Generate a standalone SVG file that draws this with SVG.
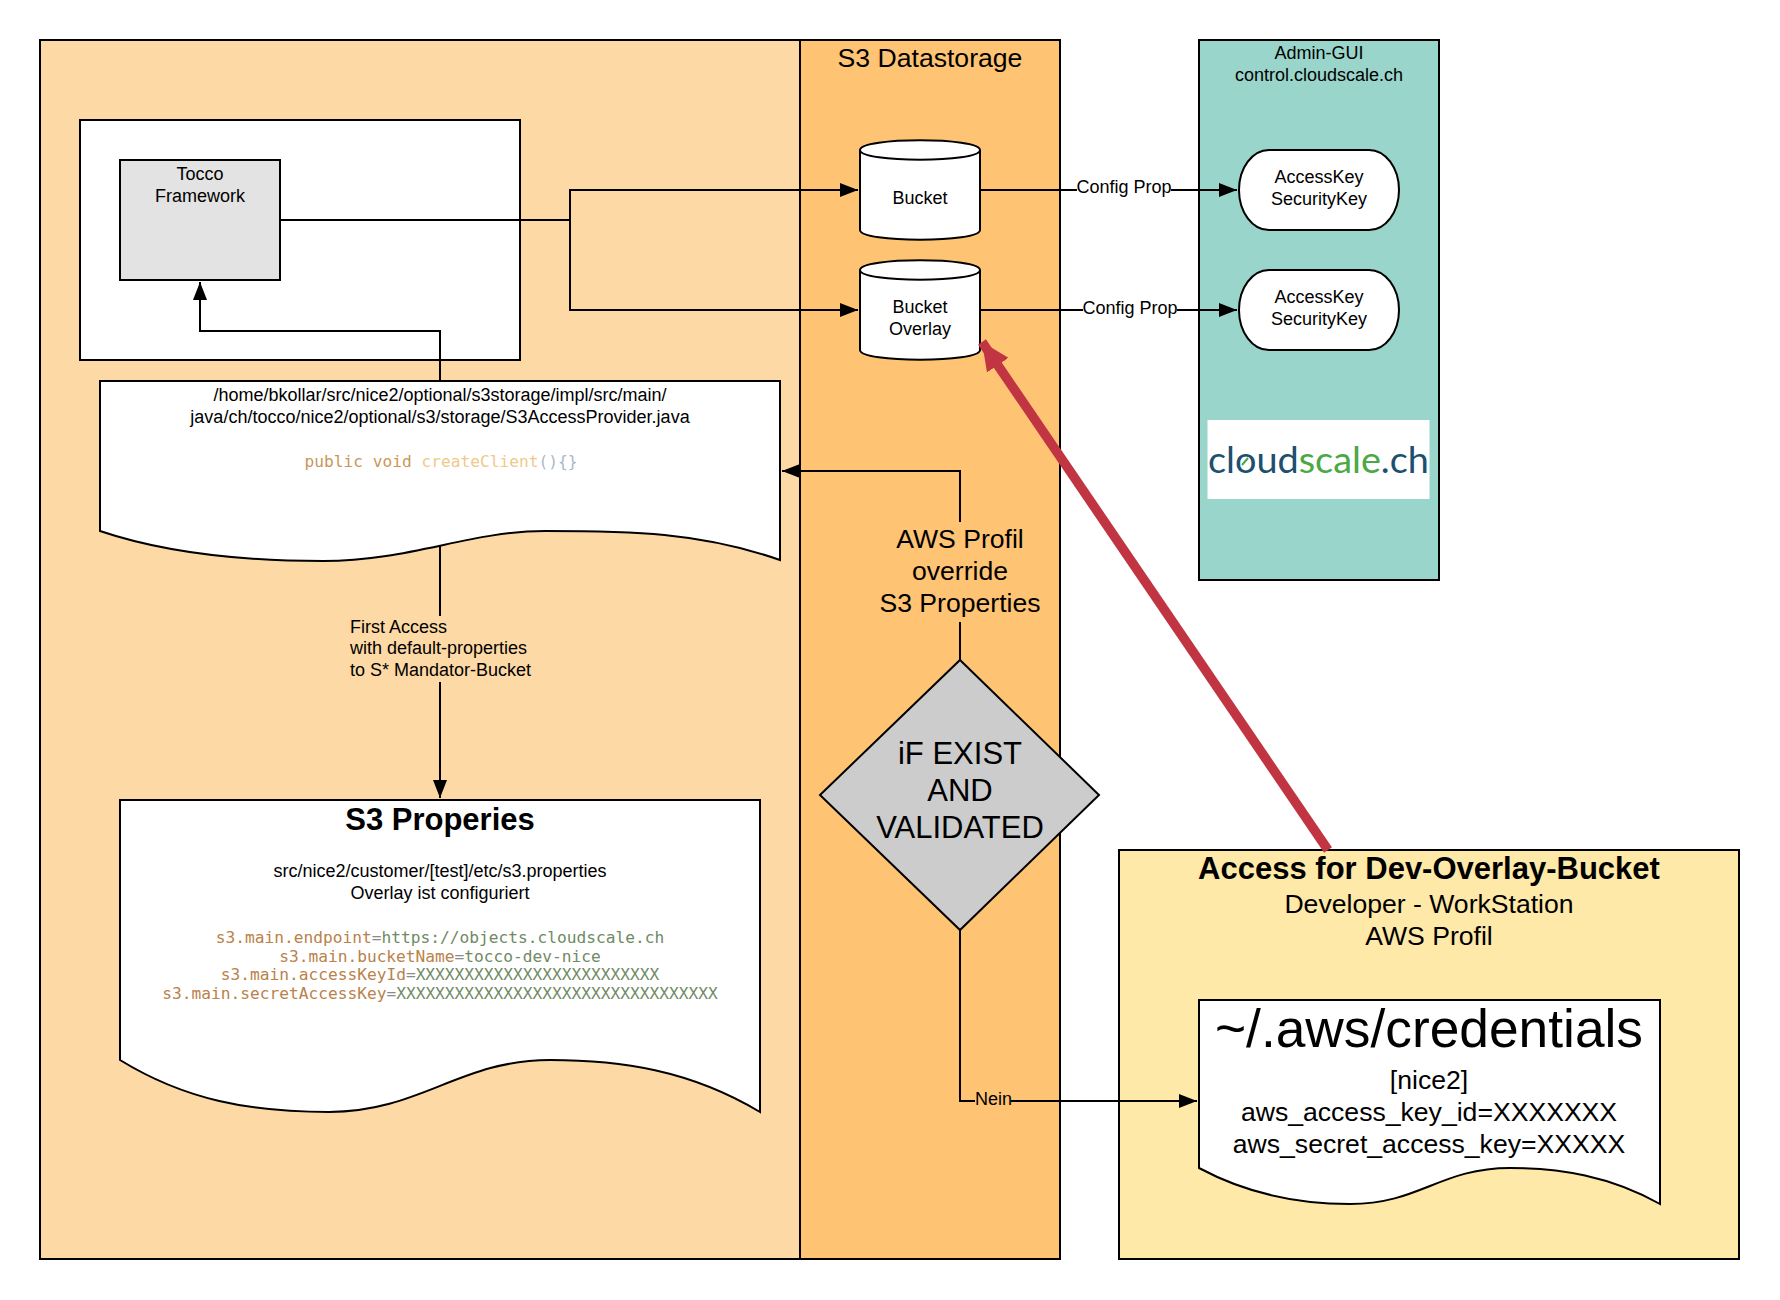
<svg xmlns="http://www.w3.org/2000/svg" width="1780" height="1300" viewBox="0 0 1780 1300">
<style>
text{font-family:"Liberation Sans",Arial,sans-serif;fill:#000;text-anchor:middle}
.s{font-size:18px}
.m{font-size:26.6px}
.b{font-size:31px;font-weight:bold}
.d{font-size:31px}
.c{font-family:"DejaVu Sans Mono",monospace;font-size:16.2px}
.k{fill:#b9824a}.v{fill:#6f8a64}.e{fill:#8a8a8a}
.box{stroke:#000;stroke-width:2}
.l{fill:none;stroke:#000;stroke-width:2}
</style>
<defs>
<marker id="a" markerUnits="userSpaceOnUse" markerWidth="20" markerHeight="14" refX="18" refY="7" orient="auto"><path d="M0 0L18 7L0 14Z" fill="#000"/></marker>
<marker id="r" markerUnits="userSpaceOnUse" markerWidth="30" markerHeight="26" refX="28" refY="13" orient="auto"><path d="M0 0L28 13L0 26Z" fill="#c13543"/></marker>
</defs>
<g id="panel-left"><rect class="box" x="40" y="40" width="760" height="1219" fill="#fdd9a6"/></g>
<g id="panel-s3"><rect class="box" x="800" y="40" width="260" height="1219" fill="#ffc374"/><text class="m" x="930" y="67">S3 Datastorage</text></g>
<g id="panel-admin"><rect class="box" x="1199" y="40" width="240" height="540" fill="#99d5ca"/><text class="s" x="1319" y="59">Admin-GUI</text><text class="s" x="1319" y="81">control.cloudscale.ch</text></g>
<g id="panel-dev"><rect class="box" x="1119" y="850" width="620" height="409" fill="#ffe9a8"/><text class="b" x="1429" y="879">Access for Dev-Overlay-Bucket</text><text class="m" x="1429" y="913">Developer - WorkStation</text><text class="m" x="1429" y="945">AWS Profil</text></g>
<g id="container"><rect class="box" x="80" y="120" width="440" height="240" fill="#fff"/></g>
<g id="tocco"><rect class="box" x="120" y="160" width="160" height="120" fill="#e3e3e3"/><text class="s" x="200" y="180">Tocco</text><text class="s" x="200" y="201.5">Framework</text></g>
<g id="connectors">
<path class="l" d="M280 220H570V190H858" marker-end="url(#a)"/>
<path class="l" d="M570 220V310H858" marker-end="url(#a)"/>
<path class="l" d="M440 381V331H200V282" marker-end="url(#a)"/>
<path class="l" d="M440 546V616"/>
<path class="l" d="M440 682V798" marker-end="url(#a)"/>
<path class="l" d="M960 522V471H782" marker-end="url(#a)"/>
<path class="l" d="M960 622V660"/>
<path class="l" d="M960 930V1101H975"/>
<path class="l" d="M1011 1101H1197" marker-end="url(#a)"/>
<path class="l" d="M980 190H1077"/>
<path class="l" d="M1171 190H1237" marker-end="url(#a)"/>
<path class="l" d="M980 310H1083"/>
<path class="l" d="M1177 310H1237" marker-end="url(#a)"/>
</g>
<g id="bucket"><path class="box" d="M860 150C860 137 980 137 980 150V230C980 243 860 243 860 230Z" fill="#fff"/><path class="l" d="M860 150C860 163 980 163 980 150"/><text class="s" x="920" y="204">Bucket</text></g>
<g id="bucket-overlay"><path class="box" d="M860 270C860 257 980 257 980 270V350C980 363 860 363 860 350Z" fill="#fff"/><path class="l" d="M860 270C860 283 980 283 980 270"/><text class="s" x="920" y="313">Bucket</text><text class="s" x="920" y="335">Overlay</text></g>
<g id="keys-1"><rect class="box" x="1239" y="150" width="160" height="80" rx="30" ry="40" fill="#fff"/><text class="s" x="1319" y="183">AccessKey</text><text class="s" x="1319" y="204.500">SecurityKey</text></g>
<g id="keys-2"><rect class="box" x="1239" y="270" width="160" height="80" rx="30" ry="40" fill="#fff"/><text class="s" x="1319" y="303">AccessKey</text><text class="s" x="1319" y="324.500">SecurityKey</text></g>
<g id="logo"><rect x="1207.500" y="420" width="222" height="79" fill="#fff"/><text x="1318.500" y="473" font-size="36" textLength="221" lengthAdjust="spacingAndGlyphs" style="font-family:Lato,sans-serif;fill:#1d4f6f">cloud<tspan style="fill:#4ba845">scale</tspan>.ch</text><path d="M1242 465L1248 458" fill="none" stroke="#4ba845" stroke-width="2"/></g>
<g id="doc-provider"><path class="box" d="M100 381H780V560C700 532 630 531 545 531C470 531 410 561 323 561C240 561 165 553 100 531Z" fill="#fff"/><text class="s" x="440" y="401">/home/bkollar/src/nice2/optional/s3storage/impl/src/main/</text><text class="s" x="440" y="423">java/ch/tocco/nice2/optional/s3/storage/S3AccessProvider.java</text><text class="c" x="441" y="466.500"><tspan style="fill:#c9975b">public void </tspan><tspan style="fill:#f0c98a">createClient</tspan><tspan style="fill:#aab8c6">(){}</tspan></text></g>
<g id="doc-props"><path class="box" d="M120 800H760V1112C690 1070 620 1060 550 1060C460 1060 420 1112 329 1112C250 1112 185 1100 120 1060Z" fill="#fff"/><text class="b" x="440" y="829.500">S3 Properies</text><text class="s" x="440" y="877">src/nice2/customer/[test]/etc/s3.properties</text><text class="s" x="440" y="899">Overlay ist configuriert</text>
<text class="c" x="440" y="942.500"><tspan class="k">s3.main.endpoint</tspan><tspan class="e">=</tspan><tspan class="v">https://objects.cloudscale.ch</tspan></text>
<text class="c" x="440" y="961.500"><tspan class="k">s3.main.bucketName</tspan><tspan class="e">=</tspan><tspan class="v">tocco-dev-nice</tspan></text>
<text class="c" x="440" y="980"><tspan class="k">s3.main.accessKeyId</tspan><tspan class="e">=</tspan><tspan class="v">XXXXXXXXXXXXXXXXXXXXXXXXX</tspan></text>
<text class="c" x="440" y="998.500"><tspan class="k">s3.main.secretAccessKey</tspan><tspan class="e">=</tspan><tspan class="v">XXXXXXXXXXXXXXXXXXXXXXXXXXXXXXXXX</tspan></text></g>
<g id="doc-credentials"><path class="box" d="M1199 1000H1660V1204C1610 1176 1560 1168 1510 1168C1440 1168 1420 1204 1350 1204C1290 1204 1240 1190 1199 1168Z" fill="#fff"/><text x="1429" y="1047" font-size="53.300">~/.aws/credentials</text><text class="m" x="1429" y="1089">[nice2]</text><text class="m" x="1429" y="1121">aws_access_key_id=XXXXXXX</text><text class="m" x="1429" y="1153">aws_secret_access_key=XXXXX</text></g>
<g id="decision"><path d="M960 660L1099 795L960 930L820 795Z" fill="#cccccc" stroke="#000" stroke-width="2"/><text class="d" x="960" y="763.500">iF EXIST</text><text class="d" x="960" y="801">AND</text><text class="d" x="960" y="837.500">VALIDATED</text></g>
<g id="labels"><text class="m" x="960" y="547.500">AWS Profil</text><text class="m" x="960" y="579.500">override</text><text class="m" x="960" y="611.500">S3 Properties</text>
<text class="s" x="350" y="632.500" style="text-anchor:start">First Access</text><text class="s" x="350" y="654" style="text-anchor:start">with default-properties</text><text class="s" x="350" y="675.500" style="text-anchor:start">to S* Mandator-Bucket</text>
<text class="s" x="1124" y="193">Config Prop</text><text class="s" x="1130" y="314">Config Prop</text><text class="s" x="993.500" y="1105">Nein</text></g>
<g id="red-arrow"><path d="M1328 850L982 342" fill="none" stroke="#c13543" stroke-width="9.500" marker-end="url(#r)"/></g>
</svg>
